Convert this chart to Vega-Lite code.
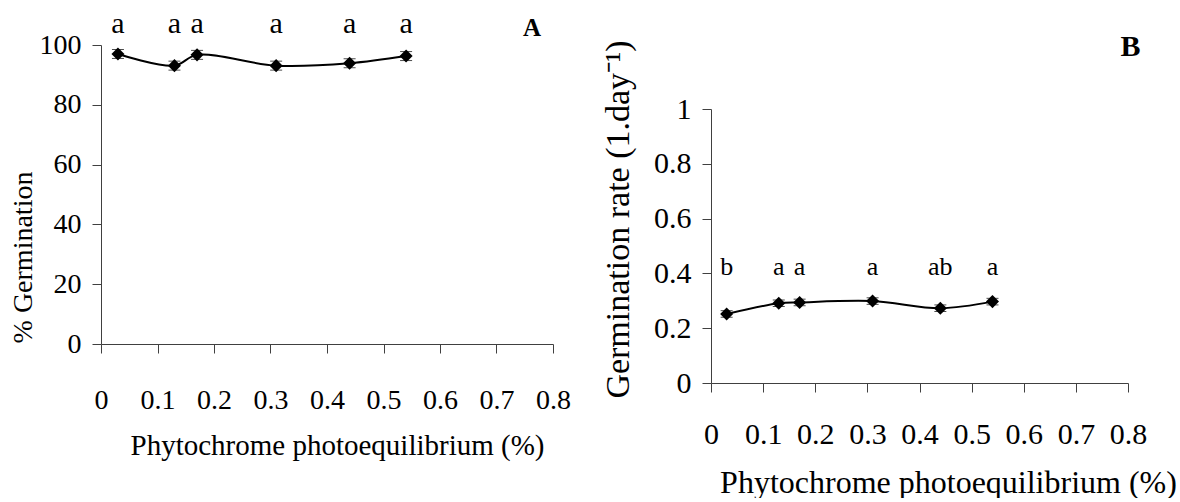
{
  "$schema": "https://vega.github.io/schema/vega-lite/v6.json",
  "padding": {"left": 9, "top": 9, "right": 0, "bottom": 0},
  "bounds": "flush",
  "spacing": 158,
  "config": {
    "font": "Liberation Serif",
    "view": {"stroke": null},
    "axis": {
      "grid": false,
      "domainColor": "#404040",
      "tickColor": "#404040",
      "tickSize": 9,
      "labelColor": "#000000",
      "titleColor": "#000000",
      "labelFont": "Liberation Serif",
      "titleFont": "Liberation Serif",
      "titleFontWeight": "normal",
      "labelFlush": false,
      "labelOverlap": false,
      "format": "~r"
    }
  },
  "datasets": {
    "A": [
      {"x": 0.03, "y": 97.0, "e": 1.5, "sig": "a"},
      {"x": 0.13, "y": 93.1, "e": 1.5, "sig": "a"},
      {"x": 0.17, "y": 96.7, "e": 1.5, "sig": "a"},
      {"x": 0.31, "y": 93.1, "e": 1.5, "sig": "a"},
      {"x": 0.44, "y": 93.9, "e": 1.5, "sig": "a"},
      {"x": 0.54, "y": 96.3, "e": 1.5, "sig": "a"}
    ],
    "B": [
      {"x": 0.03, "y": 0.252, "e": 0.012, "sig": "b"},
      {"x": 0.13, "y": 0.291, "e": 0.012, "sig": "a"},
      {"x": 0.17, "y": 0.294, "e": 0.012, "sig": "a"},
      {"x": 0.31, "y": 0.299, "e": 0.012, "sig": "a"},
      {"x": 0.44, "y": 0.273, "e": 0.012, "sig": "ab"},
      {"x": 0.54, "y": 0.297, "e": 0.012, "sig": "a"}
    ],
    "panelA": [{"label": "A"}],
    "panelB": [{"label": "B"}]
  },
  "hconcat": [
    {
      "width": 452,
      "height": 299,
      "layer": [
        {
          "data": {"name": "A"},
          "encoding": {
            "x": {
              "field": "x", "type": "quantitative",
              "scale": {"domain": [0, 0.8], "nice": false},
              "axis": {
                "values": [0, 0.1, 0.2, 0.3, 0.4, 0.5, 0.6, 0.7, 0.8],
                "title": "Phytochrome photoequilibrium (%)",
                "labelFontSize": 28, "labelPadding": 33,
                "titleFontSize": 29, "titleX": 236, "titleY": 110, "titleBaseline": "alphabetic"
              }
            },
            "y": {
              "field": "y", "type": "quantitative",
              "scale": {"domain": [0, 100], "nice": false},
              "axis": {
                "values": [0, 20, 40, 60, 80, 100],
                "title": "% Germination",
                "labelFontSize": 28, "labelPadding": 11,
                "titleFontSize": 28, "titleX": -78, "titleY": 212, "titleBaseline": "middle", "titleAlign": "center", "titleAngle": -90
              }
            }
          },
          "layer": [
            {"mark": {"type": "line", "color": "#000000", "strokeWidth": 2, "interpolate": "catmull-rom"}},
            {"mark": {"type": "errorbar", "color": "#000000", "ticks": {"size": 12, "color": "#000000"}},
             "encoding": {"yError": {"field": "e"}}},
            {"mark": {"type": "point", "shape": "diamond", "filled": true, "color": "#000000", "size": 170, "opacity": 1}},
            {"mark": {"type": "text", "fontSize": 30, "baseline": "alphabetic", "color": "#000000"},
             "encoding": {"y": {"datum": 104}, "text": {"field": "sig"}}}
          ]
        },
        {
          "data": {"name": "panelA"},
          "mark": {"type": "text", "fontSize": 25, "fontWeight": "bold", "baseline": "alphabetic", "color": "#000000"},
          "encoding": {
            "x": {"datum": 0.763, "type": "quantitative"},
            "y": {"datum": 103.1, "type": "quantitative"},
            "text": {"field": "label", "type": "nominal"}
          }
        }
      ]
    },
    {
      "width": 417,
      "height": 338,
      "layer": [
        {
          "data": {"name": "B"},
          "encoding": {
            "x": {
              "field": "x", "type": "quantitative",
              "scale": {"domain": [0, 0.8], "nice": false},
              "axis": {
                "values": [0, 0.1, 0.2, 0.3, 0.4, 0.5, 0.6, 0.7, 0.8],
                "title": "Phytochrome photoequilibrium (%)",
                "labelFontSize": 30, "labelPadding": 27,
                "titleFontSize": 32, "titleX": 237, "titleY": 109, "titleBaseline": "alphabetic"
              }
            },
            "y": {
              "field": "y", "type": "quantitative",
              "scale": {"domain": [0, 1], "nice": false, "range": [338, 64]},
              "axis": {
                "values": [0, 0.2, 0.4, 0.6, 0.8, 1],
                "title": "Germination rate (1.day⁻¹)",
                "labelFontSize": 30, "labelPadding": 11,
                "titleFontSize": 34, "titleX": -93, "titleY": 174, "titleBaseline": "middle", "titleAlign": "center", "titleAngle": -90
              }
            }
          },
          "layer": [
            {"mark": {"type": "line", "color": "#000000", "strokeWidth": 2, "interpolate": "catmull-rom"}},
            {"mark": {"type": "errorbar", "color": "#000000", "ticks": {"size": 12, "color": "#000000"}},
             "encoding": {"yError": {"field": "e"}}},
            {"mark": {"type": "point", "shape": "diamond", "filled": true, "color": "#000000", "size": 170, "opacity": 1}},
            {"mark": {"type": "text", "fontSize": 26, "baseline": "alphabetic", "color": "#000000"},
             "encoding": {"y": {"datum": 0.394}, "text": {"field": "sig"}}}
          ]
        },
        {
          "data": {"name": "panelB"},
          "mark": {"type": "text", "fontSize": 30, "fontWeight": "bold", "baseline": "alphabetic", "color": "#000000"},
          "encoding": {
            "x": {"datum": 0.805, "type": "quantitative"},
            "y": {"datum": 1.193, "type": "quantitative"},
            "text": {"field": "label", "type": "nominal"}
          }
        }
      ]
    }
  ]
}
